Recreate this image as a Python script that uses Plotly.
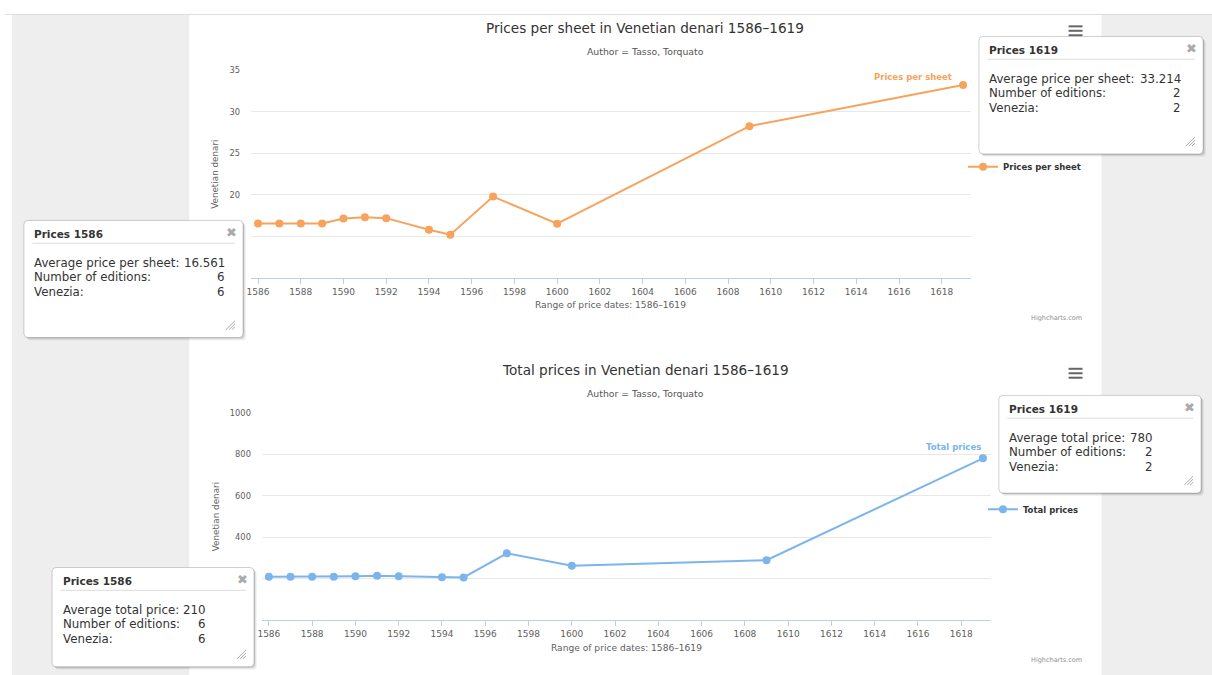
import plotly.graph_objects as go

# ---------------- data ----------------
years = [1586, 1587, 1588, 1589, 1590, 1591, 1592, 1594, 1595, 1597, 1600, 1609, 1619]
price_per_sheet = [16.561, 16.561, 16.561, 16.561, 17.16, 17.32, 17.2, 15.81, 15.21, 19.79, 16.53, 28.27, 33.214]
total_price = [210, 210, 210, 210, 213, 215, 213, 208, 207, 323, 263, 290, 780]

x_tick_vals = [1586, 1588, 1590, 1592, 1594, 1596, 1598, 1600, 1602, 1604, 1606, 1608, 1610, 1612, 1614, 1616, 1618]
x_tick_text = ["1586", "1588", "1590", "1592", "1594", "1596", "1598", "1600", "1602", "1604", "1606", "1608",
               "1610", "1612", "1614", "1616", "1618"]
# the lowest two labels of each chart are hidden behind the tooltips in the reference
y1_tick_vals = [10, 15, 20, 25, 30, 35]
y1_tick_text = ["", "", "20", "25", "30", "35"]
y2_tick_vals = [0, 200, 400, 600, 800, 1000]
y2_tick_text = ["", "", "400", "600", "800", "1000"]

tip_years = ["1586", "1619"]
tip_sheet_avg = ["16.561", "33.214"]
tip_total_avg = ["210", "780"]
tip_editions = ["6", "2"]
tip_venezia = ["6", "2"]

title1 = "Prices per sheet in Venetian denari 1586–1619"
title2 = "Total prices in Venetian denari 1586–1619"
subtitle = "Author = Tasso, Torquato"
x_title = "Range of price dates: 1586–1619"
y_title = "Venetian denari"
series1_name = "Prices per sheet"
series2_name = "Total prices"

# ---------------- helpers ----------------
W, H = 1212, 675
FONT = "DejaVu Sans"
ORANGE = "#f7a35c"
BLUE = "#7cb5ec"


def fx(px):
    return px / W


def fy(py):
    return 1 - py / H


shapes = []
annotations = []


def rect(x0, y0, x1, y1, fill, line=None, layer="below"):
    shapes.append(dict(type="rect", xref="paper", yref="paper", x0=fx(x0), x1=fx(x1), y0=fy(y1), y1=fy(y0),
                       fillcolor=fill, line=dict(width=0) if line is None else line, layer=layer))


def hline(x0, x1, y, color, width=1, layer="above"):
    shapes.append(dict(type="line", xref="paper", yref="paper", x0=fx(x0), x1=fx(x1), y0=fy(y), y1=fy(y),
                       line=dict(color=color, width=width), layer=layer))


def seg(x0, y0, x1, y1, color, width=1, layer="above"):
    shapes.append(dict(type="line", xref="paper", yref="paper", x0=fx(x0), x1=fx(x1), y0=fy(y0), y1=fy(y1),
                       line=dict(color=color, width=width), layer=layer))


def rrect_path(x0, y0, x1, y1, r):
    p = [
        ("M", [(x0 + r, y0)]),
        ("L", [(x1 - r, y0)]),
        ("Q", [(x1, y0), (x1, y0 + r)]),
        ("L", [(x1, y1 - r)]),
        ("Q", [(x1, y1), (x1 - r, y1)]),
        ("L", [(x0 + r, y1)]),
        ("Q", [(x0, y1), (x0, y1 - r)]),
        ("L", [(x0, y0 + r)]),
        ("Q", [(x0, y0), (x0 + r, y0)]),
    ]
    s = ""
    for cmd, pts in p:
        s += cmd + " " + " ".join(f"{fx(a):.6f},{fy(b):.6f}" for a, b in pts) + " "
    return s + "Z"


def text(x, y, t, size, color="#333333", xanchor="center", yanchor="middle", bold=False, angle=0, family=FONT):
    annotations.append(dict(xref="paper", yref="paper", x=fx(x), y=fy(y), text=t, showarrow=False,
                            xanchor=xanchor, yanchor=yanchor, textangle=angle,
                            font=dict(family=family, size=size, color=color, weight="bold" if bold else "normal")))


def tooltip(x0, y0, x1, y1, title, labels, values, value_right):
    for k, a in ((3, 0.05), (2, 0.07), (1, 0.09)):
        shapes.append(dict(type="path", xref="paper", yref="paper", path=rrect_path(x0 + k, y0 + k, x1 + k, y1 + k, 4),
                           fillcolor=f"rgba(0,0,0,{a})", line=dict(width=0), layer="above"))
    shapes.append(dict(type="path", xref="paper", yref="paper", path=rrect_path(x0, y0, x1, y1, 4),
                       fillcolor="white", line=dict(color="rgba(0,0,0,0.18)", width=1), layer="above"))
    text(x0 + 8.5, y0 + 13.5, title, 10.5, "#333333", xanchor="left", bold=True)
    hline(x0 + 8.5, x1 - 8, y0 + 23, "#dddddd", 1)
    text(x1 - 12, y0 + 12.5, "✖", 13, "#aaaaaa")
    for i, (lab, val) in enumerate(zip(labels, values)):
        yy = y0 + 42.5 + 14.8 * i
        text(x0 + 8.5, yy, lab, 11.8, "#333333", xanchor="left")
        text(value_right, yy, val, 11.8, "#333333", xanchor="right")
    cx, cy = x1 - 8, y1 - 8
    for k in (3, 6, 9):
        seg(cx - k, cy, cx, cy - k, "#aaaaaa", 1)


def hamburger(xc, yc):
    for d in (-4.5, 0, 4.5):
        hline(xc - 7, xc + 7, yc + d, "#666666", 2)


# ---------------- page background ----------------
rect(0, 0, W, H, "white")
rect(7, 9.5, W, H, "#eeeeee")
rect(185, 10, 1101, H, "white")
hline(0, W, 9.5, "#dddddd", 1, layer="below")

# ---------------- plot geometry ----------------
top_plot = dict(left=247, right=970, top=65.7, bottom=275)
bot_plot = dict(left=258, right=990, top=410.7, bottom=620)

fig = go.Figure()
fig.add_trace(go.Scatter(x=years, y=price_per_sheet, mode="lines+markers", name=series1_name,
                         line=dict(color=ORANGE, width=2), marker=dict(color=ORANGE, size=8),
                         xaxis="x", yaxis="y", legend="legend", hoverinfo="skip"))
fig.add_trace(go.Scatter(x=years, y=total_price, mode="lines+markers", name=series2_name,
                         line=dict(color=BLUE, width=2), marker=dict(color=BLUE, size=8),
                         xaxis="x2", yaxis="y2", legend="legend2", hoverinfo="skip"))

xcommon = dict(tickvals=x_tick_vals, ticktext=x_tick_text, ticks="outside", ticklen=5, tickcolor="#C0D0E0",
               showline=True, linecolor="#C0D0E0", linewidth=1, showgrid=False, zeroline=False,
               tickfont=dict(family=FONT, size=9, color="#606060"), fixedrange=True)
ycommon = dict(showgrid=True, gridcolor="#e8e8e8", gridwidth=1, zeroline=False, showline=False, ticks="",
               ticklabelstandoff=10, tickfont=dict(family=FONT, size=8.3, color="#606060"), fixedrange=True)

fig.update_layout(
    width=W, height=H, margin=dict(l=0, r=0, t=0, b=0),
    paper_bgcolor="white", plot_bgcolor="rgba(0,0,0,0)",
    xaxis=dict(domain=[fx(top_plot["left"]), fx(top_plot["right"])], range=[1585.67, 1619.37],
               anchor="y", **xcommon),
    yaxis=dict(domain=[fy(top_plot["bottom"]), fy(top_plot["top"])], range=[10, 35],
               tickvals=y1_tick_vals, ticktext=y1_tick_text, anchor="x", **ycommon),
    xaxis2=dict(domain=[fx(bot_plot["left"]), fx(bot_plot["right"])], range=[1585.68, 1619.37],
                anchor="y2", **xcommon),
    yaxis2=dict(domain=[fy(bot_plot["bottom"]), fy(bot_plot["top"])], range=[0, 1000],
                tickvals=y2_tick_vals, ticktext=y2_tick_text, anchor="x2", **ycommon),
    legend=dict(x=fx(962), y=fy(163), xanchor="left", yanchor="middle", bgcolor="rgba(0,0,0,0)",
                font=dict(family=FONT, size=8.5, color="#333333", weight="bold"), itemclick=False,
                itemdoubleclick=False),
    legend2=dict(x=fx(982), y=fy(508), xanchor="left", yanchor="middle", bgcolor="rgba(0,0,0,0)",
                 font=dict(family=FONT, size=8.5, color="#333333", weight="bold"), itemclick=False,
                 itemdoubleclick=False),
    showlegend=True,
)

# ---------------- chart texts ----------------
text(643, 22.7, title1, 13.6, "#333333")
text(643, 46.7, subtitle, 9.3, "#555555")
text(608.5, 302.3, x_title, 9.1, "#606060")
text(211, 171, y_title, 8.8, "#606060", angle=-90)
text(911.5, 72.7, series1_name, 8.5, ORANGE, bold=True)
text(1083, 315, "Highcharts.com", 6.5, "#909090", xanchor="right")

text(643, 367.7, title2, 13.6, "#333333")
text(643, 391.7, subtitle, 9.3, "#555555")
text(624, 647.3, x_title, 9.1, "#606060")
text(211.5, 515.5, y_title, 8.8, "#606060", angle=-90)
text(952.5, 445.7, series2_name, 8.5, BLUE, bold=True)
text(1083, 660, "Highcharts.com", 6.5, "#909090", xanchor="right")

hamburger(1075, 26)
hamburger(1075, 371)

# ---------------- tooltips ----------------
tooltip(19, 217, 239, 335, "Prices " + tip_years[0],
        ["Average price per sheet:", "Number of editions:", "Venezia:"],
        [tip_sheet_avg[0], tip_editions[0], tip_venezia[0]], 222.7)
tooltip(978, 31.7, 1203, 150, "Prices " + tip_years[1],
        ["Average price per sheet:", "Number of editions:", "Venezia:"],
        [tip_sheet_avg[1], tip_editions[1], tip_venezia[1]], 1183.3)
tooltip(998, 393.3, 1201, 491.7, "Prices " + tip_years[1],
        ["Average total price:", "Number of editions:", "Venezia:"],
        [tip_total_avg[1], tip_editions[1], tip_venezia[1]], 1155)
tooltip(47.3, 566.7, 250, 666.7, "Prices " + tip_years[0],
        ["Average total price:", "Number of editions:", "Venezia:"],
        [tip_total_avg[0], tip_editions[0], tip_venezia[0]], 204.3)

fig.update_layout(shapes=shapes, annotations=annotations)
fig.write_html("out.html", config=dict(displayModeBar=False),
               post_script="document.body.style.margin='0';document.body.style.padding='0';"
                           "document.body.style.overflow='hidden';")
